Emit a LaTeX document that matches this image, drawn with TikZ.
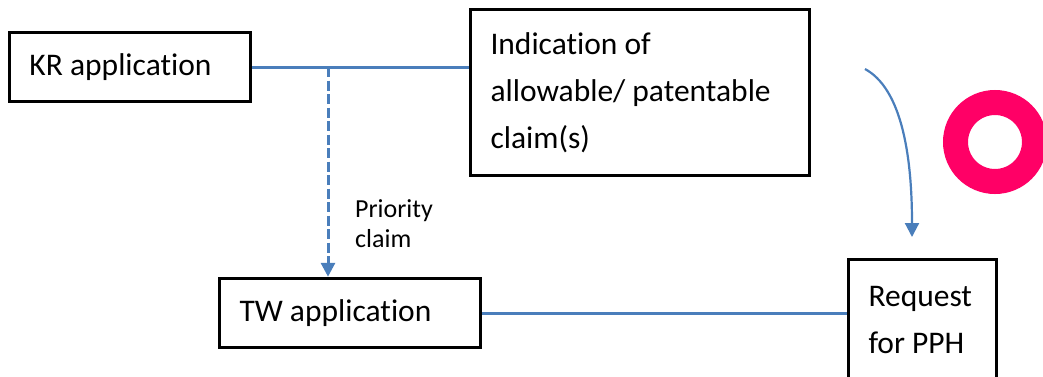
\documentclass[tikz,border=0pt]{standalone}
\usepackage{fontspec}
\setmainfont[Ligatures=NoCommon]{Carlito}
\usepackage{xcolor}
\usepackage{tikz}
\usetikzlibrary{positioning,calc,arrows.meta}
\definecolor{LinkBlue}{RGB}{74,126,187}
\definecolor{RingPink}{RGB}{255,0,102}

\begin{document}
\begin{tikzpicture}[
		x=1bp, y=-1bp,
		box/.style={draw, line width=3.5bp, inner xsep=20bp, inner ysep=0pt, align=flush left,
			font=\fontsize{31.5bp}{47bp}\selectfont},
		link/.style={draw=LinkBlue, line width=3bp},
		tip/.style={-{Triangle[width=14bp,length=14bp]}},
		note/.style={font=\fontsize{26bp}{30bp}\selectfont, align=flush left, inner sep=0pt}
		]
		\useasboundingbox (0,0) rectangle (1043,376);
		
		% ===== boxes =====
		\node[box, minimum width=241bp, minimum height=69bp, text width=201bp] (kr) at (130,67) {KR application};
		\node[box, minimum width=339bp, minimum height=166bp, text width=299bp] (ind) at (640,92.5) {Indication of\\allowable/ patentable\\claim(s)};
		\node[box, minimum width=261bp, minimum height=69bp, text width=221bp] (tw) at (350,313) {TW application};
		\node[box, minimum width=148bp, minimum height=121bp, text width=108bp] (req) at (922.5,320) {Request\\for PPH};
		
		% ===== links =====
		\draw[link] (kr.east) -- (kr.east -| ind.west);
		\coordinate (split) at (328,67);
		\draw[link, dash pattern=on 10bp off 3.5bp, tip] (split) -- (split |- tw.north);
		\node[note, anchor=west] (prio) at (355,223.5) {Priority\\claim};
		\draw[link] (tw.east) -- (tw.east -| req.west);
		
		% ===== curved arrow + ring =====
		\coordinate (cstart) at (865,69);
		\coordinate (cend) at (912,237);
		\draw[link, line width=2.2bp, tip] (cstart) .. controls (900,88) and (912,150) .. (cend);
		\draw[RingPink, line width=25bp] (995,142) circle (39.5);
		
	\end{tikzpicture}
\end{document}
